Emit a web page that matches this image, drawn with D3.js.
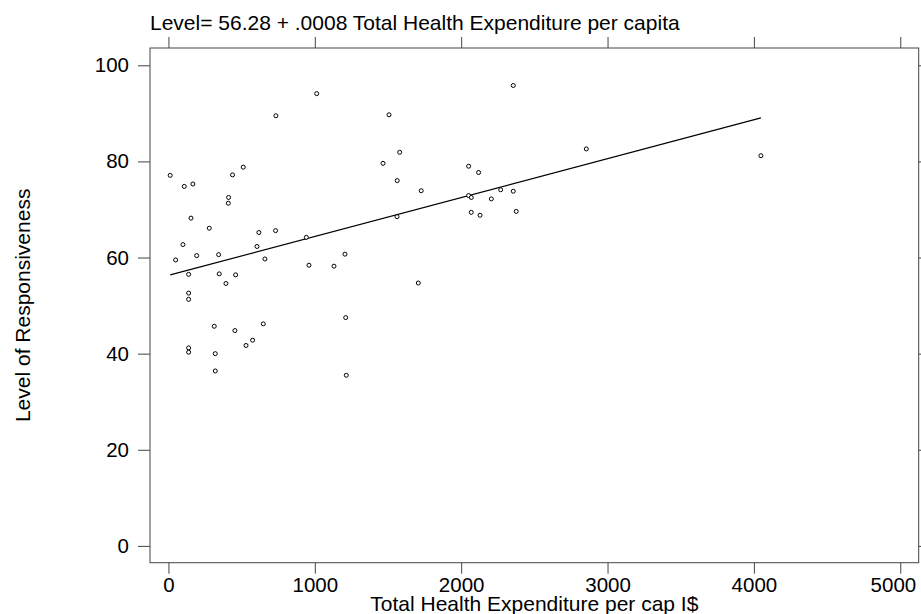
<!DOCTYPE html>
<html>
<head>
<meta charset="utf-8">
<script src="https://cdn.jsdelivr.net/npm/d3@7"></script>
<style>
  html, body { margin: 0; padding: 0; background: #fff; }
  svg { display: block; font-family: "Liberation Sans", Arial, sans-serif; }
</style>
</head>
<body>
<svg id="chart" width="921" height="614"></svg>
<script>
// Total health expenditure per capita (I$) for each country
const expenditure = [
  12, 108, 167, 438, 511, 411, 409, 154, 279, 618,
  732, 942, 99, 605, 1206, 49, 193, 343, 659, 138,
  347, 459, 393, 138, 138, 960, 1131, 1211, 313, 454,
  648, 575, 530, 138, 138, 320, 320, 1215, 2356, 1507,
  1013, 734, 1580, 1466, 1563, 1727, 2051, 2119, 1562, 1707,
  2051, 2069, 2270, 2356, 2206, 2069, 2129, 2376, 2855, 4048
];
// Level of responsiveness for the same countries
const responsiveness = [
  77.1, 74.8, 75.3, 77.2, 78.8, 72.5, 71.3, 68.2, 66.1, 65.2,
  65.6, 64.2, 62.7, 62.3, 60.7, 59.5, 60.4, 60.6, 59.7, 56.5,
  56.6, 56.4, 54.6, 52.6, 51.3, 58.4, 58.2, 47.5, 45.7, 44.8,
  46.2, 42.8, 41.7, 41.2, 40.3, 40.0, 36.4, 35.5, 95.8, 89.7,
  94.1, 89.5, 81.9, 79.6, 76.0, 73.9, 79.0, 77.7, 68.5, 54.7,
  72.9, 72.5, 74.1, 73.8, 72.2, 69.4, 68.8, 69.6, 82.6, 81.2
];
// Fitted regression line
const fitIntercept = 56.28;
const fitSlope = 0.0081;

const xTicks = [0, 1000, 2000, 3000, 4000, 5000];
const yTicks = [0, 20, 40, 60, 80, 100];

const titleText = "Level= 56.28 + .0008 Total Health Expenditure per capita";
const xLabel = "Total Health Expenditure per cap I$";
const yLabel = "Level of Responsiveness";

const svg = d3.select("#chart");
const box = { left: 150, top: 48, right: 918.7, bottom: 562.7 };
const axisColor = "#444";
const labelSize = 21;
const tickSize = 20.5;

const x = d3.scaleLinear().domain([-126, 5126]).range([box.left, box.right]);
const y = d3.scaleLinear().domain([-3.5, 103.6]).range([box.bottom, box.top]);

// frame
svg.append("rect")
  .attr("x", box.left).attr("y", box.top)
  .attr("width", box.right - box.left).attr("height", box.bottom - box.top)
  .attr("fill", "none").attr("stroke", axisColor).attr("stroke-width", 1);

function styleAxis(g, withLabels) {
  g.select(".domain").remove();
  g.selectAll(".tick line").attr("stroke", axisColor).attr("stroke-width", 1);
  if (withLabels) {
    g.selectAll(".tick text").attr("fill", "#000").attr("font-size", tickSize)
      .attr("font-family", "Liberation Sans, Arial, sans-serif");
  } else {
    g.selectAll(".tick text").remove();
  }
}

// bottom axis
const gB = svg.append("g").attr("transform", `translate(0,${box.bottom})`)
  .call(d3.axisBottom(x).tickValues(xTicks).tickSize(11).tickPadding(4).tickFormat(d3.format("d")));
styleAxis(gB, true);
// keep the last label inside the frame's right edge
gB.selectAll(".tick text").filter(d => d === xTicks[xTicks.length - 1])
  .attr("text-anchor", "end")
  .attr("x", box.right - 3 - x(xTicks[xTicks.length - 1]));

// top axis (ticks only)
const gT = svg.append("g").attr("transform", `translate(0,${box.top})`)
  .call(d3.axisTop(x).tickValues(xTicks).tickSize(11));
styleAxis(gT, false);

// left axis
const gL = svg.append("g").attr("transform", `translate(${box.left},0)`)
  .call(d3.axisLeft(y).tickValues(yTicks).tickSize(12).tickPadding(9).tickFormat(d3.format("d")));
styleAxis(gL, true);

// right axis (ticks only)
const gR = svg.append("g").attr("transform", `translate(${box.right},0)`)
  .call(d3.axisRight(y).tickValues(yTicks).tickSize(11));
styleAxis(gR, false);

// regression line over the range of the data
const xExt = d3.extent(expenditure);
svg.append("line")
  .attr("x1", x(xExt[0])).attr("y1", y(fitIntercept + fitSlope * xExt[0]))
  .attr("x2", x(xExt[1])).attr("y2", y(fitIntercept + fitSlope * xExt[1]))
  .attr("stroke", "#000").attr("stroke-width", 1.2);

// observations
svg.append("g").selectAll("circle")
  .data(expenditure.map((v, i) => [v, responsiveness[i]]))
  .join("circle")
  .attr("cx", d => x(d[0]))
  .attr("cy", d => y(d[1]))
  .attr("r", 2)
  .attr("fill", "#fff")
  .attr("stroke", "#000")
  .attr("stroke-width", 1);

// title
svg.append("text")
  .attr("x", box.left).attr("y", 30)
  .attr("font-size", labelSize).attr("fill", "#000")
  .text(titleText);

// x label
svg.append("text")
  .attr("x", (box.left + box.right) / 2).attr("y", 611)
  .attr("text-anchor", "middle")
  .attr("font-size", labelSize).attr("fill", "#000")
  .text(xLabel);

// y label
svg.append("text")
  .attr("transform", `translate(29.5,${(box.top + box.bottom) / 2}) rotate(-90)`)
  .attr("text-anchor", "middle")
  .attr("font-size", labelSize).attr("fill", "#000")
  .text(yLabel);
</script>
</body>
</html>
